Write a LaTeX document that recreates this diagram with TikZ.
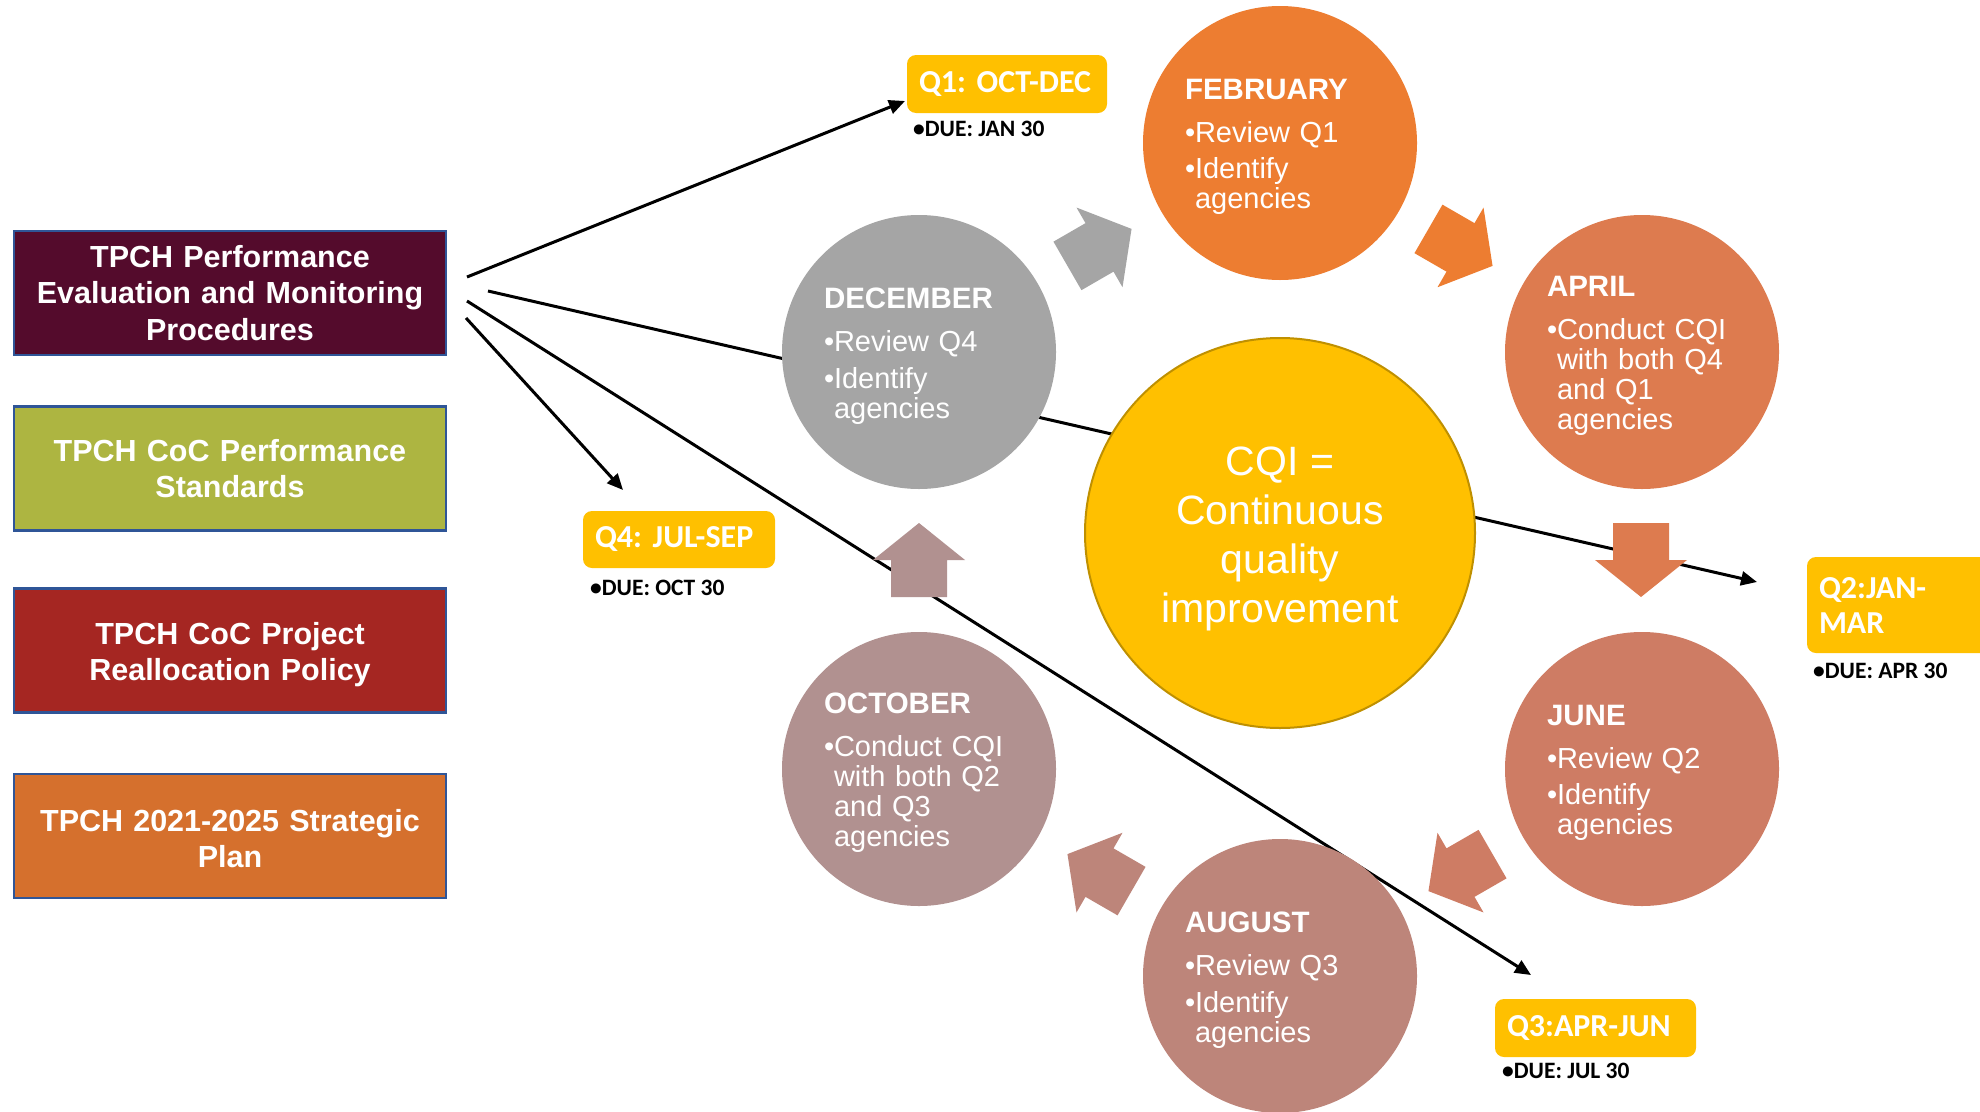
\documentclass[tikz,border=0pt]{standalone}
\usepackage{fontspec}
\setmainfont{Liberation Sans}
\newfontfamily\calfont{Carlito}
\usetikzlibrary{arrows.meta}
\frenchspacing

\definecolor{cqigold}{HTML}{FFC000}
\definecolor{cqiedge}{HTML}{BF9000}
\definecolor{febc}{HTML}{ED7D31}
\definecolor{aprc}{HTML}{DD7B4F}
\definecolor{junc}{HTML}{CE7C64}
\definecolor{augc}{HTML}{BD857A}
\definecolor{octc}{HTML}{B19190}
\definecolor{decc}{HTML}{A5A5A5}
\definecolor{boxedge}{HTML}{2F5597}
\definecolor{boxA}{HTML}{540B2C}
\definecolor{boxB}{HTML}{ADB541}
\definecolor{boxC}{HTML}{A52622}
\definecolor{boxD}{HTML}{D5702D}

% bullet paragraph with hanging indent, and month heading
\newcommand{\bitem}[1]{\par\hangindent=10pt\hangafter=1\noindent\makebox[10pt][l]{•}#1\par}
\newcommand{\mtitle}[1]{\noindent{\fontsize{29.5}{30}\selectfont\bfseries #1}\par\vspace{13pt}}
\newcommand{\bgap}{\par\vspace{6.6pt}}

% block arrow of the cycle, centred at (#1,#2), pointing at angle #3
\newcommand{\cyc}[4]{%
  \begin{scope}[shift={(#1,#2)},rotate=#3]
    \fill[#4] (-37,-28) -- (0,-28) -- (0,-46) -- (37,0) -- (0,46) -- (0,28) -- (-37,28) -- cycle;
  \end{scope}}

\begin{document}
\begin{tikzpicture}[x=1pt,y=-1pt,
  month/.style={circle,minimum size=274pt,inner sep=0pt},
  monthtext/.style={text width=190pt,align=left,inner sep=0pt,text=white,yshift=-4pt,
    font=\fontsize{29}{30}\selectfont},
  policy/.style={draw=boxedge,line width=2.5pt,minimum width=432pt,minimum height=124pt,
    text width=420pt,align=center,inner sep=0pt,text=white,
    font=\fontsize{30.5}{36.6}\selectfont\bfseries},
  policytext/.style={text width=420pt,align=center,inner sep=0pt,text=white,
    font=\fontsize{30.5}{36.6}\selectfont\bfseries},
  quarter/.style={fill=cqigold,rounded corners=9pt,inner xsep=12pt,inner ysep=0pt,
    align=left,text=white,font=\calfont\fontsize{32}{35}\selectfont\bfseries},
  due/.style={anchor=base west,inner sep=0pt,font=\calfont\fontsize{23.5}{26}\selectfont\bfseries},
  link/.style={line width=3pt,-{Triangle[length=16pt,width=14pt]}},
]
\useasboundingbox (0,0) rectangle (1980,1111);
\clip (0,0) rectangle (1980,1111);
\fill[white] (0,0) rectangle (1980,1111);

% connectors from the procedures box to the quarters
\coordinate (s1) at (467,277);
\coordinate (s2) at (488,291);
\coordinate (s3) at (467,301);
\coordinate (s4) at (466,318);
\coordinate (t1) at (905,101);
\coordinate (t2) at (1757,582);
\coordinate (t3) at (1531,975);
\coordinate (t4) at (623,490);
\draw[link] (s1) -- (t1);
\draw[link] (s2) -- (t2);
\draw[link] (s3) -- (t3);
\draw[link] (s4) -- (t4);

% the cycle of months
\node[month,fill=febc] (feb) at (1280,143) {};
\node[month,fill=aprc] (apr) at (1642,352) {};
\node[month,fill=junc] (jun) at (1642,769) {};
\node[month,fill=augc] (aug) at (1280,976) {};
\node[month,fill=octc] (oct) at (919,769) {};
\node[month,fill=decc] (dec) at (919,352) {};

\cyc{1099.5}{247.4}{30}{decc}
\cyc{1460.5}{247.4}{-30}{febc}
\cyc{1641}{560}{-90}{aprc}
\cyc{1460.5}{872.6}{-150}{junc}
\cyc{1099.5}{872.6}{150}{augc}
\cyc{919}{560}{90}{octc}

\node[circle,fill=cqigold,draw=cqiedge,line width=2pt,minimum size=390pt,inner sep=0pt] (cqi) at (1280,533) {};
\node[align=center,text=white,inner sep=0pt,yshift=-6pt,font=\fontsize{41}{49}\selectfont] (cqitext) at (cqi.center)
  {CQI =\\Continuous\\quality\\improvement};

\node[monthtext] (febtext) at (feb.center)
  {\mtitle{FEBRUARY}\bitem{Review Q1}\bgap\bitem{Identify\newline agencies}};
\node[monthtext] (aprtext) at (apr.center)
  {\mtitle{APRIL}\bitem{Conduct CQI\newline with both Q4\newline and Q1\newline agencies}};
\node[monthtext] (juntext) at (jun.center)
  {\mtitle{JUNE}\bitem{Review Q2}\bgap\bitem{Identify\newline agencies}};
\node[monthtext] (augtext) at (aug.center)
  {\mtitle{AUGUST}\bitem{Review Q3}\bgap\bitem{Identify\newline agencies}};
\node[monthtext] (octtext) at (oct.center)
  {\mtitle{OCTOBER}\bitem{Conduct CQI\newline with both Q2\newline and Q3\newline agencies}};
\node[monthtext] (dectext) at (dec.center)
  {\mtitle{DECEMBER}\bitem{Review Q4}\bgap\bitem{Identify\newline agencies}};

% quarters and their due dates
\node[quarter,text width=176pt,minimum height=58pt] (q1) at (1007,84) {Q1: OCT-DEC};
\node[quarter,text width=179pt,minimum height=96pt] (q2) at (1908.5,605) {Q2:JAN-\\MAR};
\node[quarter,text width=177pt,minimum height=58pt] (q3) at (1595.5,1028) {Q3:APR-JUN};
\node[quarter,text width=168pt,minimum height=57pt] (q4) at (679,539.5) {Q4: JUL-SEP};
\node[due] (q1due) at (913,136) {•DUE: JAN 30};
\node[due] (q2due) at (1813,678) {•DUE: APR 30};
\node[due] (q3due) at (1502,1078) {•DUE: JUL 30};
\node[due] (q4due) at (590,595) {•DUE: OCT 30};

% policy documents
\node[policy,fill=boxA] (pol1) at (230,293) {TPCH Performance\\Evaluation and Monitoring\\Procedures};
\node[policy,fill=boxB] (pol2) at (230,468.5) {TPCH CoC Performance\\Standards};
\node[policy,fill=boxC] (pol3) at (230,650.5) {};
\node[policytext] (pol3text) at ([yshift=-4pt]pol3.center) {TPCH CoC Project\\Reallocation Policy};
\node[policy,fill=boxD] (pol4) at (230,836) {};
\node[policytext] (pol4text) at ([yshift=-2.5pt]pol4.center) {TPCH 2021-2025 Strategic\\Plan};
\end{tikzpicture}
\end{document}
